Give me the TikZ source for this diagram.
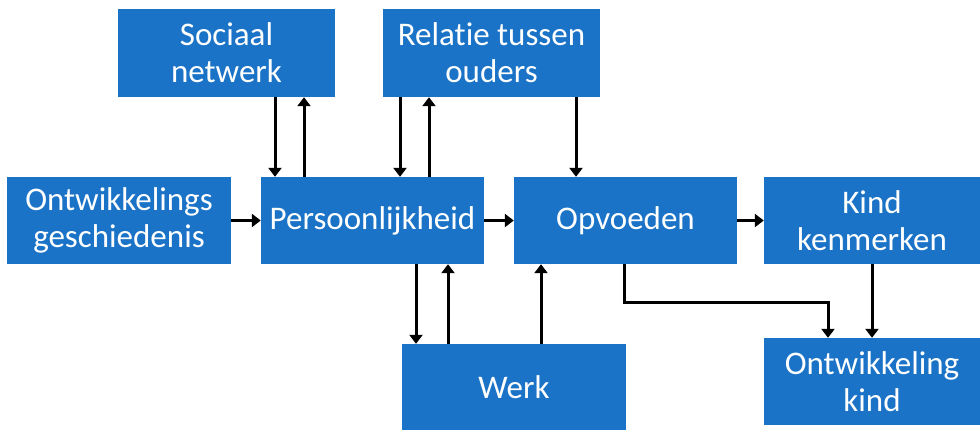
\documentclass[tikz,border=0pt]{standalone}
\usepackage{fontspec}
\setmainfont{Carlito}[Ligatures=NoCommon]
\usetikzlibrary{arrows.meta}
\definecolor{boxblue}{RGB}{26,115,199}
\begin{document}
\begin{tikzpicture}[x=1pt,y=-1pt,
  box/.style={fill=boxblue,draw=none,text=white,align=center,inner sep=0pt,
    font=\fontsize{33}{37}\selectfont},
  arr/.style={line width=3pt,-{Triangle[length=9pt,width=13pt]}},
  lin/.style={line width=3pt}]
\useasboundingbox (0,0) rectangle (980,429);
\node[box,minimum width=217pt,minimum height=88pt] (soc) at (226.5,53) {Sociaal\\netwerk};
\node[box,minimum width=217pt,minimum height=88pt] (rel) at (491.5,53) {Relatie tussen\\ouders};
\node[box,minimum width=224pt,minimum height=87pt] (ontg) at (119,220.5) {Ontwikkelings\\geschiedenis};
\node[box,minimum width=223pt,minimum height=87pt] (pers) at (372.5,220.5) {Persoonlijkheid};
\node[box,minimum width=223pt,minimum height=87pt] (opv) at (625.5,220.5) {Opvoeden};
\node[box,minimum width=216pt,minimum height=87pt] (kind) at (872,220.5) {Kind\\kenmerken};
\node[box,minimum width=224pt,minimum height=86pt] (werk) at (514,387) {Werk};
\node[box,minimum width=216pt,minimum height=87pt] (ontk) at (872,381.5) {Ontwikkeling\\kind};
% top connections
\draw[arr] (275,0 |- soc.south) -- (275,0 |- pers.north);
\draw[arr] (304,0 |- pers.north) -- (304,0 |- soc.south);
\draw[arr] (400,0 |- rel.south) -- (400,0 |- pers.north);
\draw[arr] (429,0 |- pers.north) -- (429,0 |- rel.south);
\draw[arr] (576,0 |- rel.south) -- (576,0 |- opv.north);
% horizontal
\draw[arr] (ontg.east) -- (pers.west);
\draw[arr] (pers.east) -- (opv.west);
\draw[arr] (opv.east) -- (kind.west);
% bottom
\draw[arr] (416,0 |- pers.south) -- (416,0 |- werk.north);
\draw[arr] (448,0 |- werk.north) -- (448,0 |- pers.south);
\draw[arr] (541,0 |- werk.north) -- (541,0 |- opv.south);
\coordinate (b1) at (624,302);
\coordinate (b2) at (828,302);
\draw[arr] (624,0 |- opv.south) -- (b1) -- (b2) -- (828,0 |- ontk.north);
\draw[arr] (kind.south) -- (ontk.north);
\end{tikzpicture}
\end{document}
